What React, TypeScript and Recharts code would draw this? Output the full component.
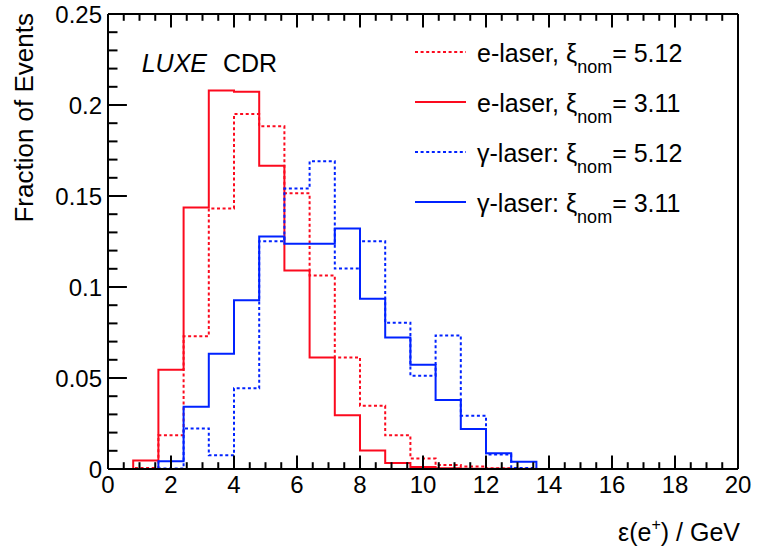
import { ComposedChart, Line, XAxis, YAxis } from "recharts"

// bin edges in GeV (25 bins of 0.8 GeV)
const binEdges = [0, 0.8, 1.6, 2.4, 3.2, 4.0, 4.8, 5.6, 6.4, 7.2, 8.0, 8.8, 9.6, 10.4, 11.2, 12.0, 12.8, 13.6, 14.4, 15.2, 16.0, 16.8, 17.6, 18.4, 19.2, 20]

// fraction of events per bin
const eLaser512 = [0, 0.0006, 0.0185, 0.0729, 0.1432, 0.1951, 0.1883, 0.1515, 0.1063, 0.0613, 0.0348, 0.0185, 0.0058, 0.0022, 0.0014, 0.0004, 0.0002, 0, 0, 0, 0, 0, 0, 0, 0]
const eLaser311 = [0, 0.0047, 0.0546, 0.1437, 0.2079, 0.2073, 0.1666, 0.109, 0.0613, 0.0295, 0.0102, 0.0033, 0.0011, 0.0004, 0.0002, 0.0001, 0, 0, 0, 0, 0, 0, 0, 0, 0]
const gLaser512 = [0, 0, 0.0003, 0.0223, 0.0075, 0.0443, 0.1251, 0.1541, 0.1691, 0.1101, 0.1251, 0.0804, 0.0513, 0.0734, 0.0293, 0.008, 0.0005, 0, 0, 0, 0, 0, 0, 0, 0]
const gLaser311 = [0, 0, 0.0042, 0.0342, 0.0633, 0.0927, 0.1278, 0.1238, 0.1238, 0.1322, 0.0936, 0.0723, 0.0573, 0.0379, 0.022, 0.0086, 0.004, 0, 0, 0, 0, 0, 0, 0, 0]

const xMajor = [0, 2, 4, 6, 8, 10, 12, 14, 16, 18, 20]
const yMajor = [0, 0.05, 0.1, 0.15, 0.2, 0.25]
const yLabels = ["0", "0.05", "0.1", "0.15", "0.2", "0.25"]

const RED = "#fc0a1e"
const BLUE = "#0022ff"
const FONT = "'Liberation Sans', Arial, Helvetica, sans-serif"
const DOTS = "3 2.6"

const series = [
  { key: "e512", vals: eLaser512, color: RED, dashed: true, label: "e-laser, ξ", xi: "5.12" },
  { key: "e311", vals: eLaser311, color: RED, dashed: false, label: "e-laser, ξ", xi: "3.11" },
  { key: "g512", vals: gLaser512, color: BLUE, dashed: true, label: "γ-laser: ξ", xi: "5.12" },
  { key: "g311", vals: gLaser311, color: BLUE, dashed: false, label: "γ-laser: ξ", xi: "3.11" },
]

// step data: one point per left edge, last edge repeats the last bin
const data = binEdges.map((x, i) => {
  const row: Record<string, number> = { x }
  series.forEach(s => { row[s.key] = s.vals[Math.min(i, s.vals.length - 1)] })
  return row
})

// minor ticks: 4 per x major, 5 per y major
const xTicks: number[] = []
for (let i = 0; i < xMajor.length - 1; i++) for (let k = 0; k < 4; k++) xTicks.push(xMajor[i] + k * 0.5)
xTicks.push(xMajor[xMajor.length - 1])
const yTicks: number[] = []
for (let i = 0; i < yMajor.length - 1; i++) for (let k = 0; k < 5; k++) yTicks.push(Math.round((yMajor[i] + k * 0.01) * 1000) / 1000)
yTicks.push(yMajor[yMajor.length - 1])

const isXMajor = (v: number) => xMajor.includes(v)
const yIdx = (v: number) => yMajor.findIndex(m => Math.abs(m - v) < 1e-6)

const BottomTick = ({ x, y, payload }: any) => {
  const major = isXMajor(payload.value)
  return (
    <g>
      <line x1={x} x2={x} y1={y} y2={y - (major ? 13.6 : 6.8)} stroke="#000" strokeWidth={2} />
      {major && <text x={x} y={y + 24} textAnchor="middle" fontFamily={FONT} fontSize={24} fill="#000">{payload.value}</text>}
    </g>
  )
}
const TopTick = ({ x, y, payload }: any) => (
  <line x1={x} x2={x} y1={y} y2={y + (isXMajor(payload.value) ? 13.6 : 6.8)} stroke="#000" strokeWidth={2} />
)
const LeftTick = ({ x, y, payload }: any) => {
  const i = yIdx(payload.value)
  return (
    <g>
      <line x1={x} x2={x + (i >= 0 ? 18.9 : 9.5)} y1={y} y2={y} stroke="#000" strokeWidth={2} />
      {i >= 0 && <text x={x - 6} y={y + 9} textAnchor="end" fontFamily={FONT} fontSize={24} fill="#000">{yLabels[i]}</text>}
    </g>
  )
}
const RightTick = ({ x, y, payload }: any) => (
  <line x1={x} x2={x - (yIdx(payload.value) >= 0 ? 18.9 : 9.5)} y1={y} y2={y} stroke="#000" strokeWidth={2} />
)

const axisLine = { stroke: "#000", strokeWidth: 2 }

export default function App() {
  return (
    <div style={{ position: "absolute", left: 0, top: 0, width: 762, height: 554, background: "#fff" }}>
      <ComposedChart width={762} height={554} data={data} margin={{ top: 0, right: 0, bottom: 0, left: 0 }}>
        <XAxis xAxisId={0} dataKey="x" type="number" domain={[0, 20]} ticks={xTicks} interval={0} height={85}
          tickSize={0} tickMargin={0} tickLine={false} axisLine={axisLine} tick={(p: any) => <BottomTick {...p} />} />
        <XAxis xAxisId="top" orientation="top" dataKey="x" type="number" domain={[0, 20]} ticks={xTicks} interval={0} height={14}
          tickSize={0} tickMargin={0} tickLine={false} axisLine={axisLine} tick={(p: any) => <TopTick {...p} />} />
        <YAxis yAxisId={0} type="number" domain={[0, 0.25]} ticks={yTicks} interval={0} width={108}
          tickSize={0} tickMargin={0} tickLine={false} axisLine={axisLine} tick={(p: any) => <LeftTick {...p} />} />
        <YAxis yAxisId="right" orientation="right" type="number" domain={[0, 0.25]} ticks={yTicks} interval={0} width={24}
          tickSize={0} tickMargin={0} tickLine={false} axisLine={axisLine} tick={(p: any) => <RightTick {...p} />} />
        {series.map(s => (
          <Line key={s.key} xAxisId={0} yAxisId={0} type="stepAfter" dataKey={s.key} stroke={s.color} strokeWidth={2}
            strokeDasharray={s.dashed ? DOTS : undefined} dot={false} activeDot={false} isAnimationActive={false} />
        ))}
      </ComposedChart>
      <svg width={762} height={554} style={{ position: "absolute", left: 0, top: 0, pointerEvents: "none" }}>
        <text x={141.7} y={72.3} fontFamily={FONT} fontSize={25} fontStyle="italic" fill="#000">LUXE</text>
        <text x={223} y={72.3} fontFamily={FONT} fontSize={25} fill="#000">CDR</text>
        {series.map((s, i) => {
          const cy = 52 + i * 50
          return (
            <g key={s.key}>
              <line x1={415} x2={466} y1={cy} y2={cy} stroke={s.color} strokeWidth={2} strokeDasharray={s.dashed ? DOTS : undefined} />
              <text x={477} y={cy + 10} fontFamily={FONT} fontSize={25} fill="#000">
                {s.label}
                <tspan fontSize={18} dy={11}>nom</tspan>
                <tspan dy={-11}>= {s.xi}</tspan>
              </text>
            </g>
          )
        })}
        <text x={740} y={541} textAnchor="end" fontFamily={FONT} fontSize={25} fill="#000">
          ε(e<tspan fontSize={16} dy={-11}>+</tspan><tspan dy={11}>) / GeV</tspan>
        </text>
        <text transform="translate(33,13) rotate(-90)" textAnchor="end" fontFamily={FONT} fontSize={26} fill="#000">Fraction of Events</text>
      </svg>
    </div>
  )
}
